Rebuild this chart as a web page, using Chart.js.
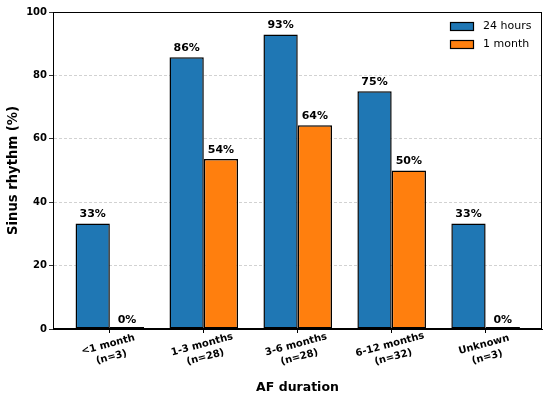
<!DOCTYPE html>
<html>
<head>
<meta charset="utf-8">
<script src="https://cdn.jsdelivr.net/npm/chart.js@4.4.0/dist/chart.umd.min.js"></script>
<style>
  html, body { margin: 0; padding: 0; background: #fff; }
  #wrap { width: 550px; height: 398px; }
</style>
</head>
<body>
<div id="wrap"><canvas id="myChart" width="550" height="398"></canvas></div>
<script>
// data
var categories = [['<1 month', '(n=3)'], ['1-3 months', '(n=28)'], ['3-6 months', '(n=28)'], ['6-12 months', '(n=32)'], ['Unknown', '(n=3)']];
var seriesNames = ['24 hours', '1 month'];
var hours24 = [33.3, 85.7, 92.9, 75, 33.3];
var month1 = [0, 53.6, 64.3, 50, 0];
var yTicks = [0, 20, 40, 60, 80, 100];
var barColors = ['#1f77b4', '#ff7f0e'];

var FONT = '"DejaVu Sans", sans-serif';

// frame around plot area (matplotlib style spines)
var framePlugin = {
    id: 'frame',
    afterDatasetsDraw: function (chart) {
        var a = chart.chartArea;
        var ctx = chart.ctx;
        ctx.save();
        ctx.strokeStyle = '#000';
        ctx.lineWidth = 1;
        ctx.strokeRect(a.left + 0.5, a.top + 0.5, a.right - a.left - 1, a.bottom - a.top - 1);
        ctx.restore();
    }
};

// percentages above bars
var labelPlugin = {
    id: 'barLabels',
    afterDatasetsDraw: function (chart) {
        var ctx = chart.ctx;
        ctx.save();
        ctx.font = 'bold 11px ' + FONT;
        ctx.fillStyle = '#000';
        ctx.textAlign = 'center';
        ctx.textBaseline = 'alphabetic';
        chart.data.datasets.forEach(function (ds, di) {
            var meta = chart.getDatasetMeta(di);
            meta.data.forEach(function (bar, i) {
                var v = ds.data[i].y;
                var top = chart.scales.y.getPixelForValue(v);
                ctx.fillText(Math.round(v) + '%', bar.x, top - 6.5);
            });
        });
        ctx.restore();
    }
};

// rotated two line category labels, centred under each tick
var xLabelPlugin = {
    id: 'xLabels',
    afterDraw: function (chart) {
        var ctx = chart.ctx;
        var xs = chart.scales.x;
        ctx.save();
        ctx.font = 'bold 10px ' + FONT;
        ctx.fillStyle = '#000';
        ctx.textAlign = 'center';
        ctx.textBaseline = 'middle';
        for (var i = 0; i < categories.length; i++) {
            var px = xs.getPixelForValue(i);
            ctx.save();
            ctx.translate(px, chart.chartArea.bottom + 22);
            ctx.rotate(-15 * Math.PI / 180);
            ctx.fillText(categories[i][0], 0, -6.5);
            ctx.fillText(categories[i][1], 0, 6.5);
            ctx.restore();
        }
        ctx.restore();
    }
};

// legend inside the plot, upper right
var legendPlugin = {
    id: 'innerLegend',
    afterDraw: function (chart) {
        var ctx = chart.ctx;
        var a = chart.chartArea;
        ctx.save();
        ctx.font = '11px ' + FONT;
        ctx.textBaseline = 'middle';
        ctx.textAlign = 'left';
        for (var i = 0; i < seriesNames.length; i++) {
            var y = a.top + 14 + i * 18;
            var x = a.right - 92;
            ctx.fillStyle = barColors[i];
            ctx.fillRect(x, y - 4, 24, 8);
            ctx.strokeStyle = '#000';
            ctx.lineWidth = 1.2;
            ctx.strokeRect(x + 0.5, y - 4 + 0.5, 23, 8);
            ctx.fillStyle = '#000';
            ctx.fillText(seriesNames[i], x + 33, y);
        }
        ctx.restore();
    }
};

var ctx = document.getElementById('myChart').getContext('2d');

var myChart = new Chart(ctx, {
    type: 'bar',
    data: {
        datasets: [{
            label: seriesNames[0],
            data: hours24.map(function (v, i) { return { x: i, y: v }; }),
            backgroundColor: barColors[0],
            borderColor: '#000',
            borderWidth: 1.5,
            borderSkipped: false,
            categoryPercentage: 0.73,
            barPercentage: 1.0
        }, {
            label: seriesNames[1],
            data: month1.map(function (v, i) { return { x: i, y: v }; }),
            backgroundColor: barColors[1],
            borderColor: '#000',
            borderWidth: 1.5,
            borderSkipped: false,
            minBarLength: 2,
            categoryPercentage: 0.73,
            barPercentage: 1.0
        }]
    },
    options: {
        responsive: false,
        animation: false,
        devicePixelRatio: 1,
        layout: { padding: { left: 0, right: 8, top: 12, bottom: 0 } },
        plugins: {
            legend: { display: false },
            tooltip: { enabled: false }
        },
        scales: {
            x: {
                type: 'linear',
                min: -0.605,
                max: 4.6,
                offset: false,
                afterBuildTicks: function (scale) {
                    scale.ticks = categories.map(function (c, i) { return { value: i }; });
                },
                afterFit: function (scale) { scale.height = 69; },
                ticks: { display: false },
                grid: {
                    offset: false,
                    drawOnChartArea: false,
                    drawTicks: true,
                    tickLength: 4,
                    tickColor: '#000'
                },
                border: { display: true, color: '#000', width: 1 },
                title: {
                    display: true,
                    text: 'AF duration',
                    color: '#000',
                    font: { family: FONT, size: 12.5, weight: 'bold' },
                    padding: { top: 0, bottom: 3 }
                }
            },
            y: {
                min: 0,
                max: 100,
                afterBuildTicks: function (scale) {
                    scale.ticks = yTicks.map(function (v) { return { value: v }; });
                },
                afterFit: function (scale) { scale.width = 53; },
                ticks: {
                    color: '#000',
                    padding: 2,
                    font: { family: FONT, size: 10, weight: 'bold' }
                },
                grid: {
                    color: 'rgba(180,180,180,0.75)',
                    lineWidth: 0.8,
                    drawTicks: true,
                    tickLength: 4,
                    tickColor: '#000',
                    tickBorderDash: []
                },
                border: { display: true, color: '#000', width: 1, dash: [3, 2] },
                title: {
                    display: true,
                    text: 'Sinus rhythm (%)',
                    color: '#000',
                    font: { family: FONT, size: 13.2, weight: 'bold' },
                    padding: { top: 6, bottom: 0 }
                }
            }
        }
    },
    plugins: [framePlugin, labelPlugin, xLabelPlugin, legendPlugin]
});
</script>
</body>
</html>
